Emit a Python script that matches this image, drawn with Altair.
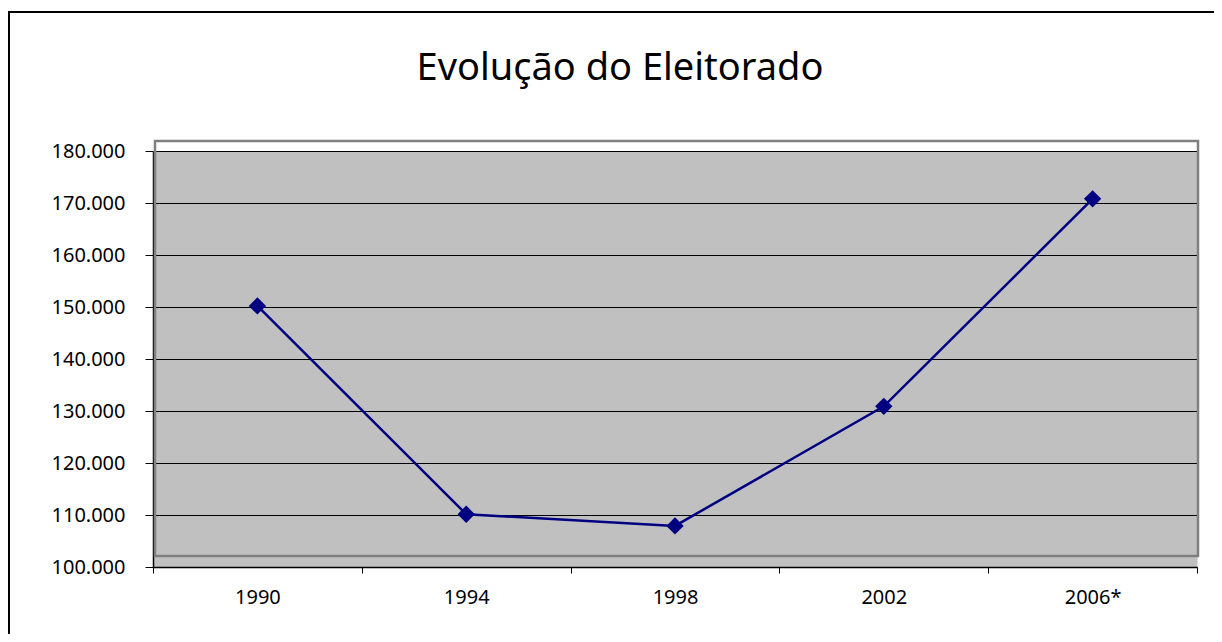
import altair as alt
import pandas as pd

anos = ["1990", "1994", "1998", "2002", "2006*"]
eleitores = [150200, 110150, 107900, 130900, 170800]
y_ticks = [100000, 110000, 120000, 130000, 140000, 150000, 160000, 170000, 180000]
titulo = "Evolução do Eleitorado"

df = pd.DataFrame({"ano": anos, "eleitores": eleitores})
one = pd.DataFrame({"d": [0]})

FONT = "Noto Sans"
NAVY = "#000080"

x_enc = alt.X(
    "ano:O",
    sort=anos,
    bandPosition=0.5,
    scale=alt.Scale(type="band", paddingInner=0, paddingOuter=0),
    axis=alt.Axis(
        title=None, labelAngle=0, tickBand="extent", tickSize=6,
        tickColor="black", domainColor="black", labelFontSize=20,
        labelFont=FONT, labelColor="black", labelPadding=14, grid=False,
        tickWidth=1, domainWidth=1.5,
    ),
)
y_enc = alt.Y(
    "eleitores:Q",
    scale=alt.Scale(domain=[100000, 180000], nice=False, zero=False),
    axis=alt.Axis(
        title=None, values=y_ticks,
        labelExpr="replace(format(datum.value, ','), ',', '.')",
        grid=True, gridColor="black", gridWidth=1, gridOpacity=1,
        tickSize=8, tickColor="black", domainColor="black", domainWidth=1.5,
        labelPadding=20, labelFontSize=20, labelFont=FONT, labelColor="black",
    ),
)

top_border = alt.Chart(one).mark_rect(fill="black", strokeWidth=0).encode(
    x=alt.value(-145), x2=alt.value(1061), y=alt.value(-140), y2=alt.value(-138)
)
left_border = alt.Chart(one).mark_rect(fill="black", strokeWidth=0).encode(
    x=alt.value(-145), x2=alt.value(-143), y=alt.value(-140), y2=alt.value(483)
)
title = alt.Chart(one).mark_text(
    text=titulo, font=FONT, fontSize=38, align="center", baseline="alphabetic", color="black"
).encode(x=alt.value(467), y=alt.value(-71))
frame = alt.Chart(one).mark_rect(fill="transparent", stroke="#808080", strokeWidth=2.5).encode(
    x=alt.value(2), y=alt.value(-10), x2=alt.value(1045), y2=alt.value(405)
)
line = alt.Chart(df).mark_line(color=NAVY, strokeWidth=2.5).encode(x=x_enc, y=y_enc)
points = alt.Chart(df).mark_point(
    shape="diamond", filled=True, size=300, color=NAVY, opacity=1
).encode(x=x_enc, y=y_enc)

chart = alt.layer(top_border, left_border, title, frame, line, points).properties(
    width=1044, height=416,
    padding={"left": 145, "top": 143, "right": 17, "bottom": 67},
    autosize=alt.AutoSizeParams(type="none"),
    background="white",
).configure_view(fill="#C0C0C0", stroke="transparent")

chart.save("out.html", embed_options={"renderer": "svg", "actions": False})
